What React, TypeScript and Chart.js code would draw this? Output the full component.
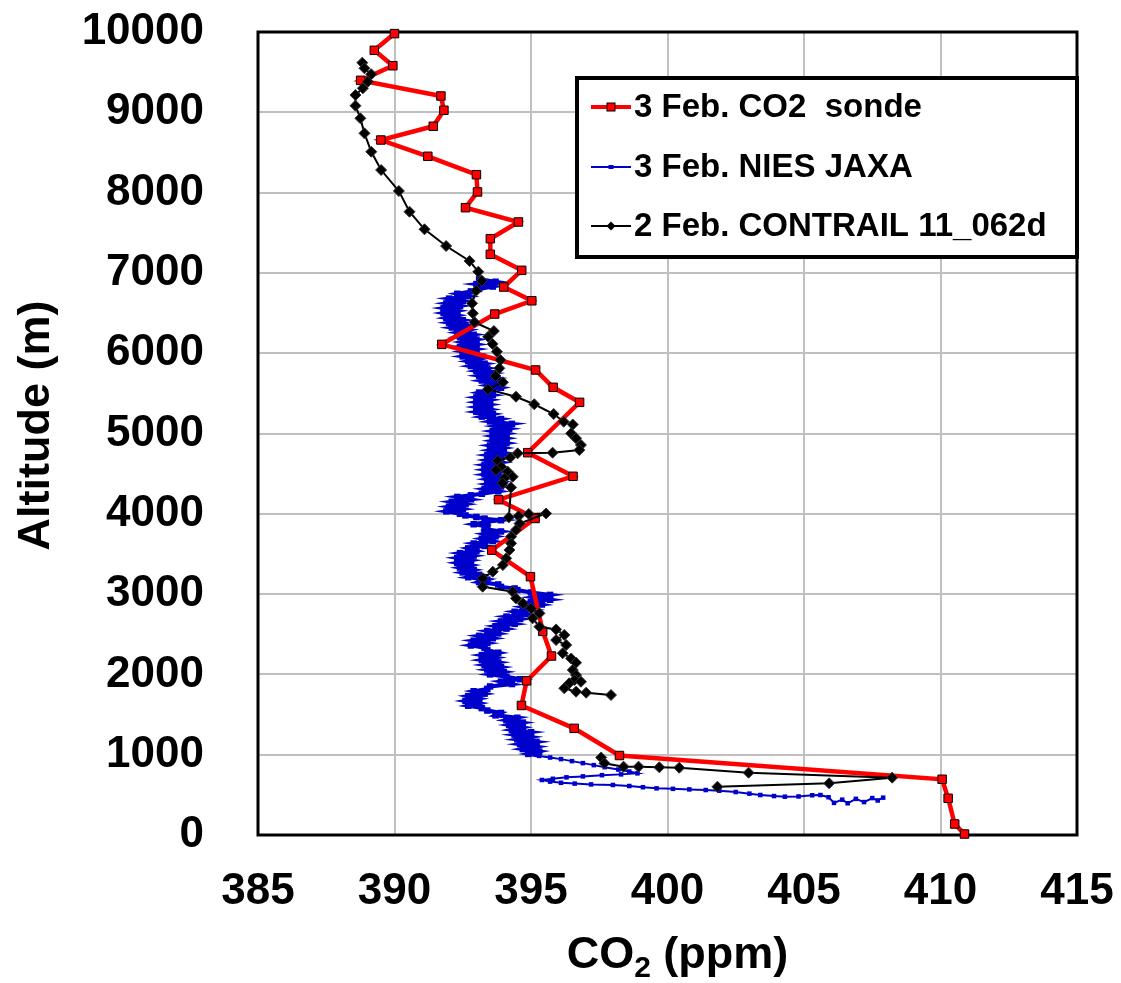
import React, { useEffect, useRef } from "react";
import { Chart, registerables } from "chart.js";

Chart.register(...registerables);

const FONT = "'Liberation Sans', Arial, sans-serif";

const xTickValues = [385, 390, 395, 400, 405, 410, 415];
const yTickValues = [0, 1000, 2000, 3000, 4000, 5000, 6000, 7000, 8000, 9000, 10000];

const legendLabels = ["3 Feb. CO2  sonde", "3 Feb. NIES JAXA", "2 Feb. CONTRAIL 11_062d"];
const xTitleMain = "CO";
const xTitleSub = "2";
const xTitleRest = " (ppm)";
const yTitle = "Altitude (m)";

// 3 Feb. CO2 sonde
const sondeAlt = [9980, 9772, 9580, 9398, 9203, 9025, 8826, 8655, 8452, 8223,
  8008, 7812, 7634, 7426, 7231, 7032, 6824, 6653, 6488, 6110,
  5791, 5575, 5388, 4761, 4467, 4176, 3942, 3547, 3217, 2536,
  2229, 1920, 1613, 1328, 990, 694, 457, 137, 12];
const sondeCO2 = [390.0, 389.26, 389.94, 388.76, 391.70, 391.81, 391.42, 389.50, 391.22, 393.00,
  393.04, 392.60, 394.54, 393.51, 393.51, 394.66, 394.00, 395.03, 393.67, 391.73,
  395.17, 395.81, 396.78, 394.88, 396.54, 393.81, 395.15, 393.56, 394.98, 395.43,
  395.75, 394.84, 394.65, 396.58, 398.24, 410.06, 410.28, 410.52, 410.88];

// 3 Feb. NIES JAXA
const niesAlt = [6920, 6890, 6860, 6830, 6800, 6770, 6740, 6710, 6680, 6650,
  6620, 6590, 6560, 6530, 6500, 6470, 6440, 6410, 6380, 6350,
  6320, 6290, 6260, 6230, 6200, 6170, 6140, 6110, 6080, 6050,
  6020, 5990, 5960, 5930, 5900, 5870, 5840, 5810, 5780, 5750,
  5720, 5690, 5660, 5630, 5600, 5570, 5540, 5510, 5480, 5450,
  5420, 5390, 5360, 5330, 5300, 5270, 5240, 5210, 5180, 5150,
  5120, 5090, 5060, 5030, 5000, 4970, 4940, 4910, 4880, 4850,
  4820, 4790, 4760, 4730, 4700, 4670, 4640, 4610, 4580, 4550,
  4520, 4490, 4460, 4430, 4400, 4370, 4340, 4310, 4280, 4250,
  4230, 4210, 4180, 4150, 4120, 4090, 4060, 4030, 4000, 3980,
  3960, 3940, 3920, 3900, 3870, 3840, 3810, 3780, 3750, 3720,
  3690, 3660, 3630, 3600, 3570, 3540, 3510, 3480, 3450, 3420,
  3390, 3360, 3330, 3300, 3270, 3240, 3210, 3180, 3150, 3120,
  3090, 3070, 3050, 3020, 2990, 2960, 2930, 2900, 2870, 2840,
  2810, 2780, 2750, 2720, 2690, 2660, 2630, 2600, 2570, 2540,
  2510, 2480, 2450, 2420, 2390, 2360, 2330, 2300, 2270, 2240,
  2210, 2180, 2150, 2120, 2090, 2060, 2030, 2000, 1970, 1940,
  1910, 1880, 1850, 1820, 1790, 1760, 1730, 1700, 1670, 1640,
  1610, 1580, 1550, 1520, 1490, 1460, 1430, 1400, 1370, 1340,
  1310, 1280, 1250, 1220, 1190, 1160, 1130, 1100, 1070, 1040,
  1010, 985, 965, 945, 920, 895, 870, 845, 815, 790,
  768, 755, 745, 730, 718, 700, 685, 665, 650, 640,
  630, 623, 610, 595, 581, 575, 568, 560, 552, 535,
  515, 498, 485, 477, 480, 495, 498, 470, 400, 440,
  395, 450, 410, 460, 430, 465];
const niesCO2 = [393.1, 393.7, 393.0, 393.6, 393.1, 392.8, 392.3, 392.7, 392.0, 392.5,
  391.9, 392.4, 391.8, 392.3, 391.8, 392.3, 391.9, 392.5, 392.0, 392.6,
  392.1, 392.7, 392.3, 392.9, 392.4, 393.0, 392.5, 393.0, 392.4, 393.0,
  392.5, 393.0, 392.5, 393.1, 392.7, 393.3, 392.8, 393.4, 393.0, 393.6,
  393.1, 393.7, 393.2, 393.8, 393.4, 393.9, 393.5, 393.1, 393.6, 393.0,
  393.5, 393.0, 393.5, 393.0, 393.5, 393.0, 393.6, 393.2, 393.9, 393.5,
  394.3, 393.7, 394.2, 393.6, 394.1, 393.6, 394.1, 393.6, 394.1, 393.5,
  394.0, 393.5, 394.0, 393.4, 393.9, 393.4, 393.9, 393.3, 393.8, 393.3,
  393.8, 393.3, 393.9, 393.4, 393.9, 393.4, 393.9, 393.3, 393.8, 393.2,
  392.8, 392.3, 392.8, 392.1, 392.6, 392.0, 392.5, 391.9, 392.4, 392.6,
  393.0, 393.3, 393.9, 393.4, 392.9, 393.4, 393.3, 393.9, 393.3, 393.7,
  393.2, 393.6, 392.9, 393.3, 392.7, 393.0, 392.4, 392.9, 392.3, 392.8,
  392.3, 392.8, 392.4, 392.9, 392.5, 393.1, 392.7, 393.4, 393.1, 393.8,
  393.9, 394.4, 394.5, 395.0, 395.7, 395.1, 395.7, 395.0, 395.4, 394.7,
  395.1, 394.4, 394.8, 394.1, 394.6, 393.9, 394.4, 393.7, 394.1, 393.4,
  393.8, 393.1, 393.6, 392.9, 393.4, 392.8, 393.3, 393.4, 393.8, 393.2,
  393.7, 393.2, 393.8, 393.3, 393.9, 393.4, 394.0, 393.5, 394.1, 394.6,
  393.9, 394.3, 393.5, 393.4, 392.9, 393.3, 392.7, 393.1, 392.6, 393.1,
  392.7, 393.2, 393.4, 393.9, 393.7, 394.5, 394.1, 394.7, 394.2, 394.7,
  394.3, 395.0, 394.4, 395.0, 394.5, 395.2, 394.6, 395.2, 394.7, 395.3,
  394.9, 395.3, 395.7, 396.1, 396.5, 396.9, 397.3, 397.7, 398.2, 398.6,
  398.9, 398.3, 397.6, 396.9, 396.3, 395.8, 395.4, 395.7, 396.1, 396.6,
  397.2, 398.0, 398.6, 399.1, 399.6, 400.2, 400.8, 401.4, 401.9, 402.5,
  403.0, 403.4, 403.9, 404.3, 404.8, 405.3, 405.6, 405.9, 406.1, 406.4,
  406.6, 406.9, 407.2, 407.5, 407.7, 407.9];

// 2 Feb. CONTRAIL 11_062d (two flight segments)
const contrailUpperAlt = [9618, 9548, 9473, 9381, 9299, 9215, 9082, 8925, 8738, 8509,
  8281, 8020, 7762, 7543, 7335, 7148, 7015, 6903, 6778, 6621,
  6497, 6385, 6276, 6205, 6115, 6019, 5915, 5812, 5716, 5638,
  5550, 5458, 5364, 5243, 5147, 5112, 5002, 4940, 4857, 4794,
  4761, 4753, 4702, 4661, 4587, 4545, 4524, 4462, 4442, 4380,
  4328, 3956, 3972, 3998, 4004, 3879, 3798, 3715, 3632, 3549,
  3445, 3362, 3279, 3196, 3092, 3030, 2947, 2884, 2822, 2760,
  2699, 2594, 2560, 2491, 2428, 2366, 2263, 2198, 2146, 2055,
  1992, 1930, 1909, 1889, 1827, 1785, 1772, 1743];
const contrailUpperCO2 = [388.82, 388.90, 389.15, 389.02, 388.84, 388.57, 388.57, 388.75, 388.90, 389.15,
  389.51, 390.16, 390.55, 391.10, 391.89, 392.75, 393.07, 393.20, 392.99, 392.84,
  392.87, 392.93, 393.64, 393.43, 393.59, 393.75, 393.88, 393.84, 393.70, 393.97,
  393.42, 394.45, 395.12, 395.83, 396.20, 396.53, 396.47, 396.65, 396.83, 396.77,
  395.79, 394.51, 394.24, 393.78, 393.91, 393.72, 394.15, 394.33, 394.03, 393.96,
  394.27, 394.19, 394.55, 394.92, 395.55, 394.58, 394.45, 394.27, 394.27, 394.21,
  394.09, 393.97, 393.60, 393.23, 393.23, 394.33, 394.45, 394.70, 395.00, 395.31,
  395.06, 395.31, 395.92, 396.22, 395.92, 396.29, 396.16, 396.47, 396.65, 396.53,
  396.65, 396.59, 396.83, 396.40, 396.22, 396.65, 397.02, 397.93];
const contrailLowerAlt = [965, 893, 851, 851, 843, 838, 776, 714, 644, 601];
const contrailLowerCO2 = [397.57, 397.69, 398.39, 398.94, 399.70, 400.43, 402.97, 408.23, 405.92, 401.83];

const RED = "#ff0000";
const BLUE = "#0000cc";
const BLACK = "#000000";

const toPoints = (xs: number[], ys: number[]) => xs.map((x, i) => ({ x, y: ys[i] }));

const framePlugin = {
  id: "frameAndText",
  beforeDatasetsDraw(chart: any) {
    const { ctx, chartArea: a } = chart;
    ctx.save();
    ctx.strokeStyle = BLACK;
    ctx.lineWidth = 3;
    ctx.strokeRect(a.left, a.top, a.right - a.left, a.bottom - a.top);
    ctx.restore();
  },
  afterDraw(chart: any) {
    const { ctx, chartArea: a } = chart;
    ctx.save();
    ctx.fillStyle = BLACK;
    // Y title
    ctx.save();
    ctx.translate(37, (a.top + a.bottom) / 2 - 8);
    ctx.rotate(-Math.PI / 2);
    ctx.font = `bold 45px ${FONT}`;
    ctx.textAlign = "center";
    ctx.textBaseline = "middle";
    ctx.fillText(yTitle, 0, 0);
    ctx.restore();
    // X title with subscript
    const big = `bold 45px ${FONT}`;
    const small = `bold 30px ${FONT}`;
    ctx.font = big;
    const w1 = ctx.measureText(xTitleMain).width;
    const w3 = ctx.measureText(xTitleRest).width;
    ctx.font = small;
    const w2 = ctx.measureText(xTitleSub).width;
    const total = w1 + w2 + w3;
    let x0 = (a.left + a.right) / 2 + 10 - total / 2;
    const base = 968;
    ctx.fillStyle = BLACK;
    ctx.textAlign = "left";
    ctx.textBaseline = "alphabetic";
    ctx.font = big;
    ctx.fillText(xTitleMain, x0, base);
    x0 += w1;
    ctx.font = small;
    ctx.fillText(xTitleSub, x0, base + 9);
    x0 += w2;
    ctx.font = big;
    ctx.fillText(xTitleRest, x0, base);

    // Legend
    const lx = 577, ly = 78, lw = 500, lh = 179;
    ctx.fillStyle = "#ffffff";
    ctx.fillRect(lx, ly, lw, lh);
    ctx.strokeStyle = BLACK;
    ctx.lineWidth = 4;
    ctx.strokeRect(lx, ly, lw, lh);
    const rows = [
      { y: 107, color: RED, lw: 4 },
      { y: 167, color: BLUE, lw: 2 },
      { y: 226, color: BLACK, lw: 2 },
    ];
    rows.forEach((r, i) => {
      ctx.strokeStyle = r.color;
      ctx.lineWidth = r.lw;
      ctx.beginPath();
      ctx.moveTo(591, r.y);
      ctx.lineTo(631, r.y);
      ctx.stroke();
      const mx = 611;
      if (i === 0) {
        ctx.fillStyle = RED;
        ctx.fillRect(mx - 4, r.y - 4, 8, 8);
        ctx.strokeStyle = BLACK;
        ctx.lineWidth = 1;
        ctx.strokeRect(mx - 4, r.y - 4, 8, 8);
      } else if (i === 1) {
        ctx.fillStyle = BLUE;
        ctx.fillRect(mx - 2.5, r.y - 2, 5, 4);
      } else {
        ctx.fillStyle = BLACK;
        ctx.beginPath();
        ctx.moveTo(mx, r.y - 4.5);
        ctx.lineTo(mx + 4.5, r.y);
        ctx.lineTo(mx, r.y + 4.5);
        ctx.lineTo(mx - 4.5, r.y);
        ctx.closePath();
        ctx.fill();
      }
      ctx.fillStyle = BLACK;
      ctx.font = `bold 33px ${FONT}`;
      ctx.textAlign = "left";
      ctx.textBaseline = "middle";
      ctx.fillText(legendLabels[i], 634, r.y + 1);
    });
    ctx.restore();
  },
};

const zeroPad = (s: any) => {
  s.paddingTop = 0;
  s.paddingBottom = 0;
  s.paddingLeft = 0;
  s.paddingRight = 0;
};

export default function App() {
  const ref = useRef<HTMLCanvasElement | null>(null);

  useEffect(() => {
    if (!ref.current) return;
    const tickFont = { family: FONT, size: 44, weight: "bold" as const };
    const isUpper = (c: any) => (c.raw ? c.raw.y > 1000 : true);
    const chart = new Chart(ref.current, {
      type: "scatter",
      data: {
        datasets: [
          {
            label: legendLabels[2],
            data: toPoints(contrailUpperCO2, contrailUpperAlt),
            showLine: true,
            borderColor: BLACK,
            borderWidth: 2,
            pointStyle: "rectRot",
            pointRadius: 5.5,
            pointBackgroundColor: BLACK,
            pointBorderColor: "#333333",
            pointBorderWidth: 1,
            order: 0,
            clip: false,
          },
          {
            label: legendLabels[2],
            data: toPoints(contrailLowerCO2, contrailLowerAlt),
            showLine: true,
            borderColor: BLACK,
            borderWidth: 2,
            pointStyle: "rectRot",
            pointRadius: 5.5,
            pointBackgroundColor: BLACK,
            pointBorderColor: "#333333",
            pointBorderWidth: 1,
            order: 0,
            clip: false,
          },
          {
            label: legendLabels[0],
            data: toPoints(sondeCO2, sondeAlt),
            showLine: true,
            borderColor: RED,
            borderWidth: 4.5,
            pointStyle: "rect",
            pointRadius: 6,
            pointBackgroundColor: RED,
            pointBorderColor: BLACK,
            pointBorderWidth: 1,
            order: 1,
            clip: false,
          },
          {
            label: legendLabels[1],
            data: toPoints(niesCO2, niesAlt),
            showLine: true,
            borderColor: BLUE,
            borderWidth: 2,
            segment: {
              borderWidth: (c: any) => (c.p0 && c.p0.parsed && c.p0.parsed.y > 1000 ? 4 : 2),
            },
            pointStyle: "rect",
            pointRadius: (c: any) => (isUpper(c) ? 4.6 : 3.2),
            pointBackgroundColor: BLUE,
            pointBorderColor: BLUE,
            pointBorderWidth: 0,
            order: 2,
            clip: false,
          },
        ],
      },
      options: {
        responsive: false,
        animation: false,
        devicePixelRatio: 1,
        layout: { padding: { left: 0, top: 32, right: 44, bottom: 0 } },
        plugins: { legend: { display: false }, tooltip: { enabled: false } },
        scales: {
          x: {
            type: "linear",
            position: "bottom",
            min: 385,
            max: 415,
            afterBuildTicks: (s: any) => {
              s.ticks = xTickValues.map((v) => ({ value: v }));
            },
            afterFit: (s: any) => {
              s.height = 148;
              zeroPad(s);
            },
            grid: { color: "#c0c0c0", lineWidth: 2, drawTicks: false },
            border: { display: false },
            ticks: {
              font: tickFont,
              color: BLACK,
              padding: 30,
              maxRotation: 0,
              autoSkip: false,
              callback: (v: any) => String(v),
            },
          },
          y: {
            type: "linear",
            position: "left",
            min: 0,
            max: 10000,
            afterBuildTicks: (s: any) => {
              s.ticks = yTickValues.map((v) => ({ value: v }));
            },
            afterFit: (s: any) => {
              s.width = 258;
              zeroPad(s);
            },
            grid: { color: "#c0c0c0", lineWidth: 2, drawTicks: false },
            border: { display: false },
            ticks: {
              font: tickFont,
              color: BLACK,
              padding: 54,
              autoSkip: false,
              callback: (v: any) => String(v),
            },
          },
        },
      },
      plugins: [framePlugin],
    });
    return () => chart.destroy();
  }, []);

  return (
    <div style={{ position: "absolute", left: 0, top: 0, width: 1121, height: 983, background: "#fff" }}>
      <canvas ref={ref} width={1121} height={983} style={{ display: "block" }} />
    </div>
  );
}
